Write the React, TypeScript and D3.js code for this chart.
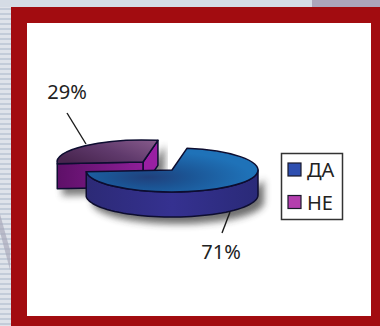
import React from "react";
import * as d3 from "d3";

// Survey answers and their shares, in percent
const answers = ["ДА", "НЕ"];
const shares = [71, 29];
const shareLabels = ["71%", "29%"];

const WIDTH = 380;
const HEIGHT = 326;
const RX = 86;
const RY = 22;
const DEPTH = 25;
const START = (10 * Math.PI) / 180; // clockwise from north, where the ДА slice begins

const pie = d3.pie<number>().sort(null).startAngle(START).endAngle(START + 2 * Math.PI);

const slices = pie(shares);
const flat = d3.arc<d3.PieArcDatum<number>>().innerRadius(0).outerRadius(RX);

// Point on the tilted rim for an angle measured clockwise from north
const rim = (a: number, dy = 0): [number, number] => [
  RX * Math.sin(a),
  -RY * Math.cos(a) + dy,
];

// Outline of the visible outer wall between two rim angles
function wallPath(a0: number, a1: number) {
  const steps = 48;
  const angles = d3.range(steps + 1).map((i) => a0 + ((a1 - a0) * i) / steps);
  const top = angles.map((a) => rim(a));
  const bottom = angles.map((a) => rim(a, DEPTH)).reverse();
  return d3.line()([...top, ...bottom]) + "Z";
}

function TopFace({ index, fill }: { index: number; fill: string }) {
  return (
    <g transform={`scale(1,${RY / RX})`}>
      <path
        d={flat(slices[index]) ?? ""}
        fill={fill}
        stroke="#0d0d30"
        strokeWidth={1.5}
        strokeLinejoin="round"
        vectorEffect="non-scaling-stroke"
      />
    </g>
  );
}

export default function App() {
  const blue = slices[0];
  const purple = slices[1];
  const apex: [number, number] = [0, 0];
  const purpleInner = rim(purple.endAngle);
  const purpleLeft = rim(purple.startAngle);
  const innerWall =
    d3.line()([
      apex,
      purpleInner,
      [purpleInner[0], purpleInner[1] + DEPTH],
      [0, DEPTH],
    ]) + "Z";
  const frontWall =
    d3.line()([
      purpleLeft,
      apex,
      [0, DEPTH],
      [purpleLeft[0], purpleLeft[1] + DEPTH],
    ]) + "Z";

  return (
    <svg
      width={WIDTH}
      height={HEIGHT}
      style={{ position: "fixed", left: 0, top: 0 }}
      fontFamily="'Noto Sans', sans-serif"
    >
      <defs>
        <pattern id="stripes" width={4} height={5} patternUnits="userSpaceOnUse">
          <rect width={4} height={5} fill="#dfe3ea" />
          <rect y={3} width={4} height={2} fill="#c3ccd9" />
        </pattern>
        <radialGradient id="blueTop" cx="0.36" cy="0.66" r="0.6">
          <stop offset="0" stopColor="#20407c" />
          <stop offset="0.4" stopColor="#1b5595" />
          <stop offset="1" stopColor="#1f72b8" />
        </radialGradient>
        <linearGradient id="blueWall" x1="0" x2="1">
          <stop offset="0" stopColor="#2c2a76" />
          <stop offset="0.5" stopColor="#353190" />
          <stop offset="1" stopColor="#2a2a78" />
        </linearGradient>
        <linearGradient id="purpleTop" x1="0" x2="1" y1="0.7" y2="0.1">
          <stop offset="0" stopColor="#48254f" />
          <stop offset="0.5" stopColor="#603a6c" />
          <stop offset="1" stopColor="#85598a" />
        </linearGradient>
        <linearGradient id="purpleWall" x1="0" x2="1">
          <stop offset="0" stopColor="#5e1068" />
          <stop offset="1" stopColor="#8e1f98" />
        </linearGradient>
        <filter id="soft" x="-20%" y="-60%" width="140%" height="220%">
          <feGaussianBlur stdDeviation="3.5" />
        </filter>
      </defs>

      <rect width={WIDTH} height={HEIGHT} fill="url(#stripes)" />
      <rect width={WIDTH} height={7} fill="#d5dce5" />
      <rect x={312} width={68} height={7} fill="#aca6bb" />
      <path d="M0,232 L10,270 L10,250 L0,214Z" fill="#a9a9ba" opacity={0.7} />

      {/* Frame and card */}
      <rect x={11} y={7} width={369} height={319} fill="#a20c10" />
      <rect x={27} y={23} width={344} height={293} fill="#ffffff" />

      {/* НЕ slice, pulled up and to the left */}
      <g transform="translate(143,162)">
        <path d={frontWall} transform="translate(5,7)" fill="#444" opacity={0.7} filter="url(#soft)" />
        <path d={innerWall} transform="translate(7,5)" fill="#444" opacity={0.7} filter="url(#soft)" />
        <path d={innerWall} fill="#991fa3" stroke="#0d0d30" strokeWidth={1.5} strokeLinejoin="round" />
        <path d={frontWall} fill="url(#purpleWall)" stroke="#0d0d30" strokeWidth={1.5} strokeLinejoin="round" />
        <TopFace index={1} fill="url(#purpleTop)" />
      </g>

      {/* ДА slice */}
      <g transform="translate(172,170)">
        <path
          d={wallPath(Math.PI / 2, blue.endAngle)}
          transform="translate(6,7)"
          fill="#333"
          opacity={0.7}
          filter="url(#soft)"
        />
        <path
          d={wallPath(Math.PI / 2, blue.endAngle)}
          fill="url(#blueWall)"
          stroke="#0d0d30"
          strokeWidth={1.5}
          strokeLinejoin="round"
        />
        <TopFace index={0} fill="url(#blueTop)" />
      </g>

      {/* Leader lines */}
      <line x1={67} y1={113} x2={86} y2={144} stroke="#1a1a1a" strokeWidth={1.4} />
      <line x1={230} y1={212} x2={222} y2={233} stroke="#1a1a1a" strokeWidth={1.4} />

      {/* Value labels */}
      <text x={67} y={99} textAnchor="middle" fontSize={20} fill="#222">{shareLabels[1]}</text>
      <text x={221} y={259} textAnchor="middle" fontSize={20} fill="#222">{shareLabels[0]}</text>

      {/* Legend */}
      <rect x={281.5} y={153.5} width={61} height={66} fill="#fff" stroke="#333" strokeWidth={1.5} />
      {answers.map((answer, i) => (
        <g key={answer} transform={`translate(288,${163 + i * 32.5})`}>
          <rect width={13} height={13} fill={i === 0 ? "#2e4fb0" : "#b43fae"} stroke="#1a1a2a" strokeWidth={1.2} />
          <text x={19} y={14} fontSize={20} fill="#222">{answer}</text>
        </g>
      ))}
    </svg>
  );
}
